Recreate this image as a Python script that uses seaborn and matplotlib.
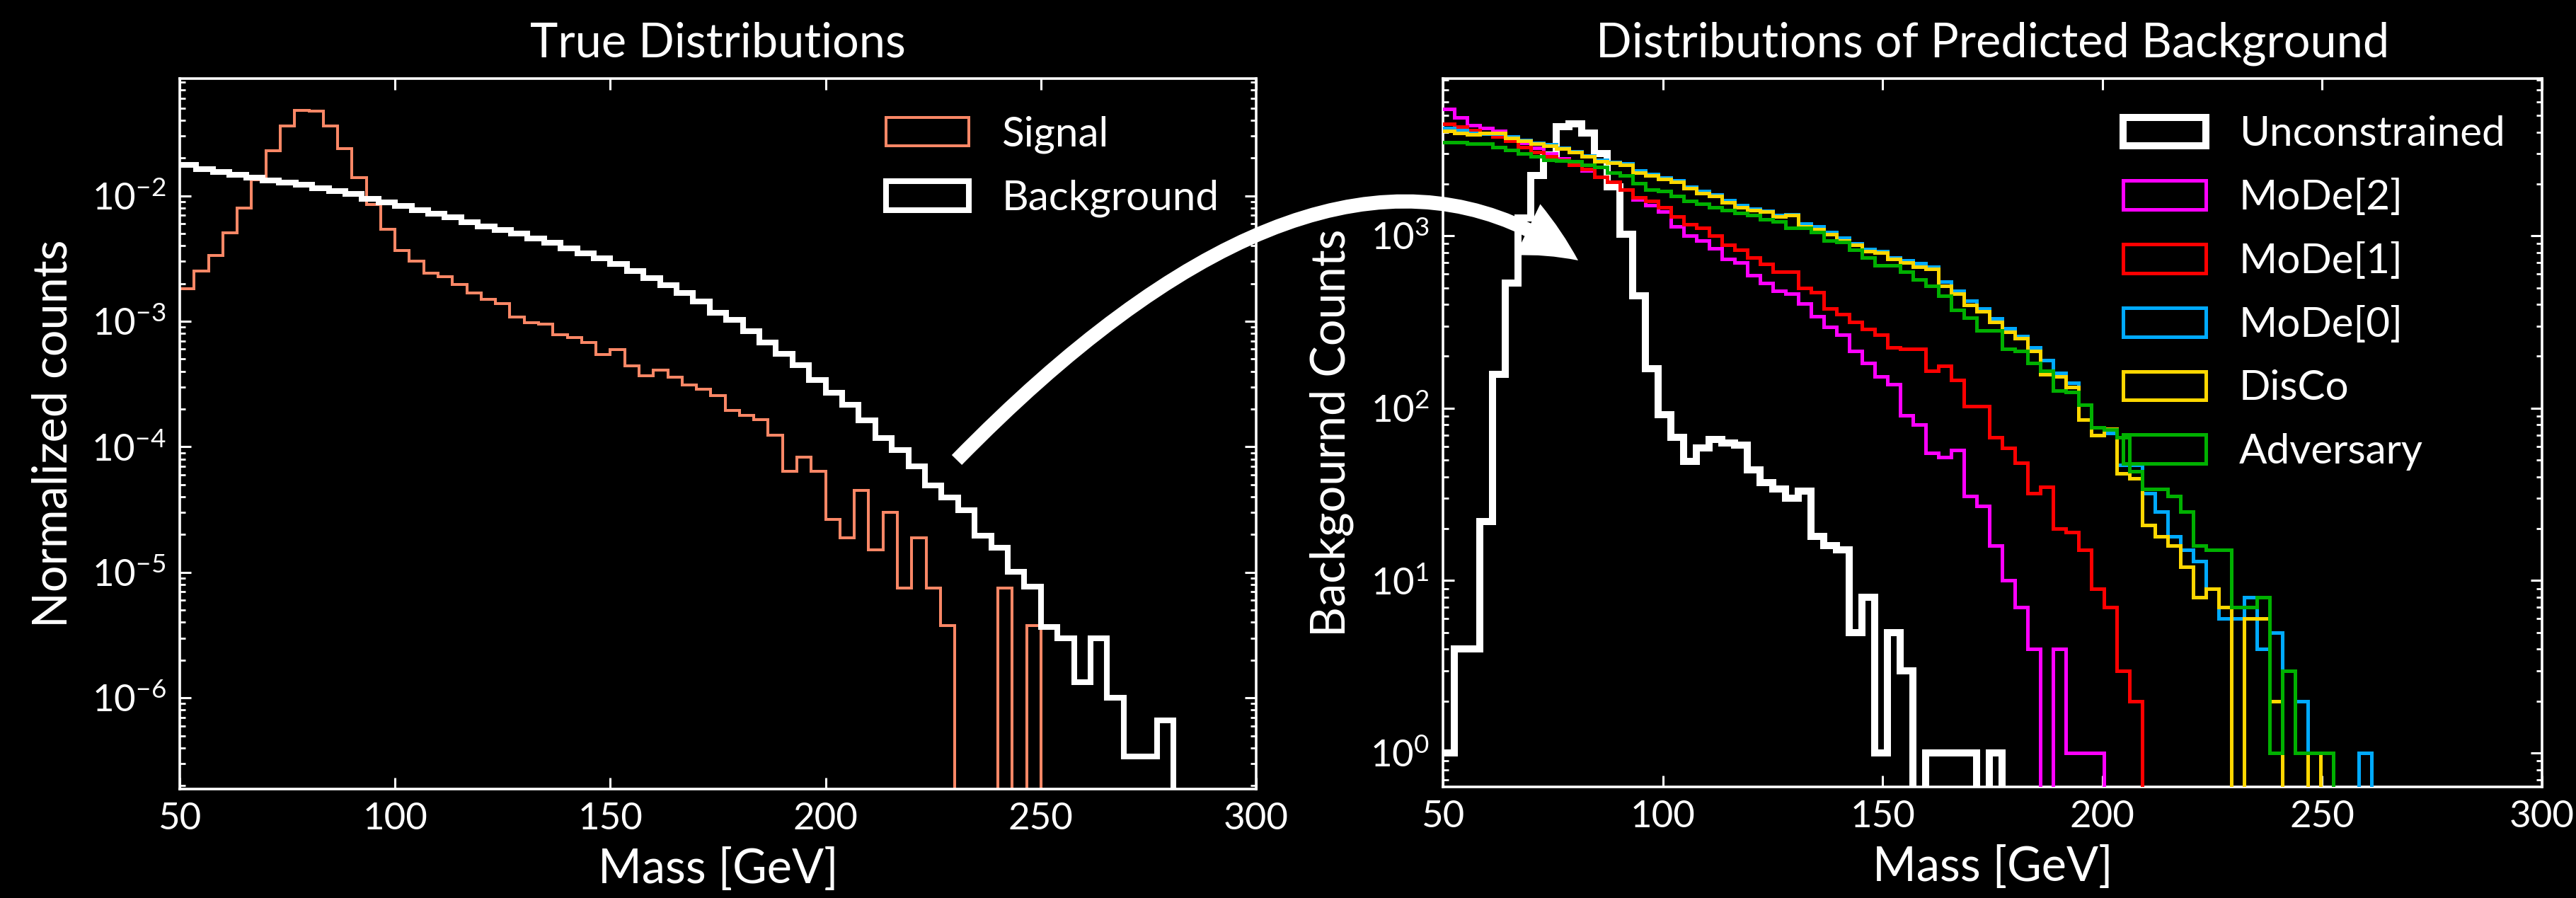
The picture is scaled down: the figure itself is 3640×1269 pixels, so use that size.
import numpy as np
import matplotlib
matplotlib.use("Agg")
import matplotlib.pyplot as plt
import seaborn as sns
from matplotlib.patches import Patch, FancyArrowPatch, ArrowStyle
from matplotlib.path import Path
from matplotlib.ticker import FixedLocator, LogLocator, NullLocator

# ---- left panel: normalized true mass distributions ----
signal_edges = np.linspace(50, 300, 76)
background_edges = np.linspace(50, 300, 66)

signal = [1.81e-3, 2.5e-3, 3.36e-3, 5.1e-3, 7.98e-3, 1.34e-2, 2.28e-2, 3.59e-2, 4.79e-2, 4.71e-2,
          3.59e-2, 2.38e-2, 1.40e-2, 8.5e-3, 5.4e-3, 3.66e-3, 3.0e-3, 2.41e-3, 2.27e-3, 1.97e-3,
          1.69e-3, 1.50e-3, 1.38e-3, 1.08e-3, 9.8e-4, 9.46e-4, 7.85e-4, 7.45e-4, 6.78e-4, 5.43e-4,
          5.93e-4, 4.43e-4, 3.70e-4, 4.10e-4, 3.60e-4, 3.13e-4, 2.87e-4, 2.55e-4, 1.95e-4, 1.77e-4,
          1.64e-4, 1.24e-4, 6.4e-5, 8.3e-5, 6.4e-5, 2.64e-5, 1.88e-5, 4.5e-5, 1.51e-5, 3.0e-5,
          7.5e-6, 1.88e-5, 7.5e-6, 3.76e-6, 0, 0, 0, 7.5e-6, 0, 3.76e-6]

background = [0.0177, 0.0164, 0.0155, 0.0147, 0.0140, 0.0132, 0.0127, 0.0122, 0.0115, 0.0109,
              0.0104, 0.0094, 0.00886, 0.00833, 0.00764, 0.00716, 0.00671, 0.00615, 0.00570, 0.00534,
              0.00500, 0.00459, 0.00421, 0.00383, 0.00349, 0.00318, 0.00285, 0.00250, 0.00220, 0.00193,
              0.00168, 0.00144, 0.00117, 0.00103, 8.3e-4, 6.78e-4, 5.51e-4, 4.49e-4, 3.42e-4, 2.69e-4,
              2.17e-4, 1.62e-4, 1.18e-4, 9.45e-5, 6.98e-5, 4.94e-5, 3.95e-5, 3.13e-5, 1.97e-5, 1.57e-5,
              1.01e-5, 7.7e-6, 3.68e-6, 2.99e-6, 1.33e-6, 2.99e-6, 1.0e-6, 3.4e-7, 3.4e-7, 6.65e-7]

# ---- right panel: background counts after each classifier cut (2.9 GeV bins) ----
pred_edges = 49.63 + 2.898 * np.arange(88)

unconstrained = [1, 4, 4, 22, 157, 533, 1270, 2230, 2940, 4300, 4480, 3950, 3000, 1930, 1025,
                 450, 170, 92, 68, 49, 59, 66, 63, 61, 44, 37, 34, 30, 33, 18, 16, 15, 5, 8,
                 1, 5, 3, 0, 1, 1, 1, 1, 0, 1]
mode2 = [5420, 4880, 4390, 4200, 4040, 3700, 3450, 3250, 3000, 2800, 2600, 2400, 2200, 2050,
         1850, 1630, 1500, 1376, 1138, 1003, 942, 848, 731, 700, 592, 533, 480, 460, 405, 342,
         295, 266, 215, 182, 153, 138, 91, 80, 55, 52, 57, 31, 27, 16, 10, 7, 4, 0, 4, 1, 1, 1]
mode1 = [4450, 4300, 4100, 3900, 3750, 3555, 3270, 3070, 2880, 2750, 2590, 2430, 2190, 2055,
         1850, 1665, 1597, 1467, 1292, 1162, 1115, 1003, 884, 830, 747, 687, 618, 618, 500, 470,
         380, 350, 315, 289, 266, 224, 220, 220, 164, 176, 146, 103, 103, 68, 59, 48, 32, 35,
         20, 19, 15, 9, 7, 3, 2]
mode0 = [4200, 4110, 3950, 3900, 3900, 3750, 3600, 3450, 3380, 3250, 3100, 2920, 2750, 2680,
         2620, 2380, 2280, 2180, 2090, 1930, 1810, 1730, 1600, 1500, 1440, 1400, 1320, 1330,
         1180, 1130, 1050, 970, 905, 835, 815, 750, 720, 690, 660, 540, 480, 420, 380, 330, 290,
         262, 225, 190, 160, 140, 105, 77, 72, 47, 47, 32, 25, 18, 15, 13, 9, 6, 6, 8, 4, 5, 3,
         2, 0, 0, 0, 0, 1]
disco = [4040, 3950, 3870, 3950, 3950, 3710, 3555, 3410, 3340, 3200, 3070, 2880, 2700, 2650,
         2590, 2330, 2235, 2140, 2055, 1890, 1775, 1700, 1563, 1467, 1407, 1377, 1292, 1318,
         1137, 1091, 1024, 942, 884, 813, 796, 731, 702, 658, 645, 510, 460, 397, 365, 315, 277,
         255, 215, 157, 153, 132, 86, 70, 76, 42, 39, 21, 18, 16, 12, 8, 9, 7, 0, 6, 6, 2, 0, 0, 1]
adversary = [3500, 3480, 3410, 3410, 3270, 3130, 3000, 2880, 2760, 2730, 2700, 2590, 2510, 2330,
             2235, 2010, 1850, 1810, 1700, 1597, 1530, 1467, 1407, 1350, 1318, 1240, 1210, 1115,
             1115, 1047, 942, 923, 830, 747, 672, 672, 618, 556, 510, 450, 372, 335, 283, 283,
             220, 215, 182, 164, 127, 124, 105, 77, 75, 68, 43, 34, 34, 31, 25, 16, 15, 15, 7, 7,
             8, 1, 3, 1, 1, 1]

methods = ["Unconstrained", "MoDe[2]", "MoDe[1]", "MoDe[0]", "DisCo", "Adversary"]
method_values = [unconstrained, mode2, mode1, mode0, disco, adversary]
method_colors = ["white", "#ff00ff", "#ff0000", "#00aaff", "#ffd700", "#00b000"]
method_widths = [3.6, 1.8, 1.8, 1.8, 1.8, 1.8]
signal_color = "#fb8766"

sns.set_theme(style="ticks", rc={
    "figure.facecolor": "black", "axes.facecolor": "black", "savefig.facecolor": "black",
    "text.color": "white", "axes.labelcolor": "white", "axes.edgecolor": "white",
    "xtick.color": "white", "ytick.color": "white",
    "xtick.direction": "in", "ytick.direction": "in",
    "xtick.top": True, "ytick.right": True, "axes.grid": False,
})
plt.rcParams["font.family"] = ["Lato", "DejaVu Sans"]
plt.rcParams["mathtext.fontset"] = "custom"
plt.rcParams["mathtext.rm"] = "Lato"
plt.rcParams["mathtext.it"] = "Lato:italic"
plt.rcParams["mathtext.bf"] = "Lato:bold"


def step(ax, edges, values, color, lw, z):
    vals = np.zeros(len(edges) - 1)
    vals[:len(values)] = values
    mids = 0.5 * (edges[1:] + edges[:-1])
    sns.histplot(x=mids, weights=vals, bins=list(edges), element="step", fill=False,
                 color=color, linewidth=lw, ax=ax, zorder=z, solid_joinstyle="miter")


def style(ax, ylim):
    ax.set_yscale("log")
    ax.set_xlim(50, 300)
    ax.set_ylim(*ylim)
    ax.xaxis.set_major_locator(FixedLocator([50, 100, 150, 200, 250, 300]))
    ax.xaxis.set_minor_locator(NullLocator())
    ax.yaxis.set_major_locator(LogLocator(base=10, numticks=20))
    ax.yaxis.set_minor_locator(LogLocator(base=10, subs=np.arange(2, 10), numticks=20))
    ax.tick_params(which="major", length=5.8, width=1.1, labelsize=19, pad=7)
    ax.tick_params(which="minor", length=2.9, width=1.0)
    for s in ax.spines.values():
        s.set_linewidth(1.3)
        s.set_color("white")
    ax.set_xlabel("Mass [GeV]", fontsize=24, labelpad=6)


fig = plt.figure(figsize=(18.205, 6.345), dpi=200)
ax1 = fig.add_axes([0.06976, 0.12136, 0.41774, 0.79117])
ax2 = fig.add_axes([0.56001, 0.12372, 0.42653, 0.78881])

# left: true distributions
step(ax1, signal_edges, signal, signal_color, 1.45, 2)
step(ax1, background_edges, background, "white", 2.9, 3)
style(ax1, (1.88e-7, 0.0859))
ax1.set_ylabel("Normalized counts", fontsize=24, labelpad=8)
ax1.set_title("True Distributions", fontsize=24, pad=11)
ax1.legend(handles=[Patch(facecolor="none", edgecolor=signal_color, linewidth=1.45, label="Signal"),
                    Patch(facecolor="none", edgecolor="white", linewidth=2.9, label="Background")],
           loc="upper right", frameon=False, fontsize=21, labelspacing=0.63)

# right: predicted background for each method
for i, (vals, col, lw) in enumerate(zip(method_values, method_colors, method_widths)):
    step(ax2, pred_edges, vals, col, lw, 2 + i)
style(ax2, (0.635, 8170))
ax2.set_ylabel("Backgournd Counts", fontsize=24, labelpad=8)
ax2.set_title("Distributions of Predicted Background", fontsize=24, pad=11)
ax2.legend(handles=[Patch(facecolor="none", edgecolor=c, linewidth=w, label=m)
                    for m, c, w in zip(methods, method_colors, method_widths)],
           loc="upper right", frameon=False, fontsize=21, labelspacing=0.63)

# curved arrow linking the two panels
arrow_path = Path([(0.37133, 0.48779), (0.51634, 0.91332), (0.61247, 0.71001)],
                  [Path.MOVETO, Path.CURVE3, Path.CURVE3])
arrow = FancyArrowPatch(path=arrow_path,
                        arrowstyle=ArrowStyle.Simple(head_length=3.0, head_width=2.9, tail_width=0.72),
                        mutation_scale=10, transform=fig.transFigure,
                        facecolor="white", edgecolor="none", linewidth=0, zorder=10)
fig.add_artist(arrow)

fig.savefig("out.png", dpi=200, facecolor="black")
